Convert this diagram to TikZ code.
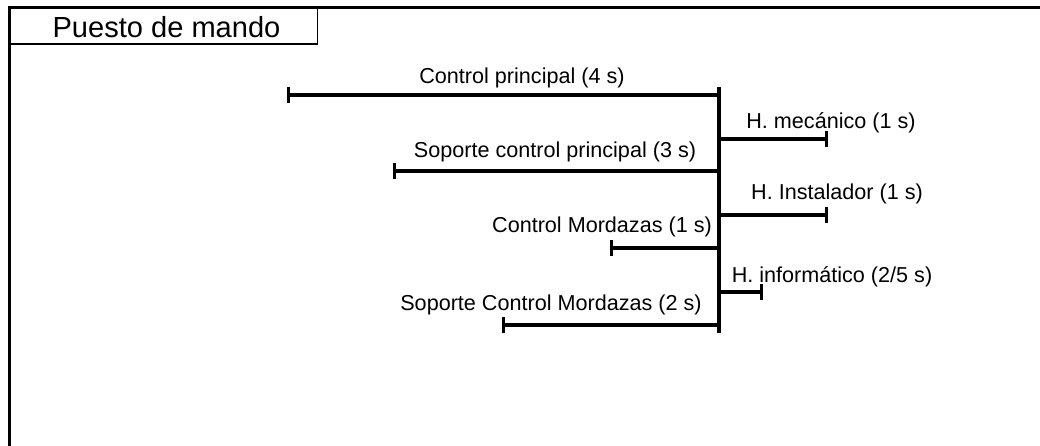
\documentclass[tikz,border=0pt]{standalone}
\usepackage{fontspec}
\setmainfont{Liberation Sans}
\usetikzlibrary{arrows.meta}
\begin{document}
\begin{tikzpicture}[x=0.75pt,y=-0.75pt,
  frameline/.style={line width=2.4pt},
  thinline/.style={line width=0.8pt},
  bus/.style={line width=2.4pt},
  branch/.style={line width=2.4pt,-{Bar[width=12pt,line width=2.4pt]}},
  lbl/.style={anchor=base,inner sep=0pt,font=\fontsize{16.2}{19}\selectfont},
  ttl/.style={anchor=base,inner sep=0pt,font=\fontsize{21.8}{25}\selectfont}]
\useasboundingbox (0,0) rectangle (1040,446);
% frame
\coordinate (fTR) at (1040,7.5);
\coordinate (fTL) at (9.5,7.5);
\coordinate (fBL) at (9.5,446);
\draw[thinline] (9.5,7.5) rectangle (317.5,44);
\draw[frameline] (fTR) -- (fTL) -- (fBL);
\node[ttl] (title) at (166.5,37) {Puesto de mando};
% bus
\coordinate (btop) at (719,87);
\coordinate (bbot) at (719,333);
\draw[bus] (btop) -- (bbot);
\coordinate (b1) at (719,95);   \coordinate (e1) at (287,95);
\coordinate (b2) at (719,139);  \coordinate (e2) at (828,139);
\coordinate (b3) at (719,171);  \coordinate (e3) at (393,171);
\coordinate (b4) at (719,215);  \coordinate (e4) at (828,215);
\coordinate (b5) at (719,248);  \coordinate (e5) at (610,248);
\coordinate (b6) at (719,292);  \coordinate (e6) at (763,292);
\coordinate (b7) at (719,325);  \coordinate (e7) at (502,325);
\draw[branch] (b1) -- (e1);
\draw[branch] (b2) -- (e2);
\draw[branch] (b3) -- (e3);
\draw[branch] (b4) -- (e4);
\draw[branch] (b5) -- (e5);
\draw[branch] (b6) -- (e6);
\draw[branch] (b7) -- (e7);
% labels
\node[lbl] (l1) at (522,83) {Control principal (4 s)};
\node[lbl] (l2) at (831,128) {H. mecánico (1 s)};
\node[lbl] (l3) at (555,157) {Soporte control principal (3 s)};
\node[lbl] (l4) at (837,199) {H. Instalador (1 s)};
\node[lbl] (l5) at (602,232) {Control Mordazas (1 s)};
\node[lbl] (l6) at (832,282) {H. informático (2/5 s)};
\node[lbl] (l7) at (551,310) {Soporte Control Mordazas (2 s)};
\end{tikzpicture}
\end{document}
